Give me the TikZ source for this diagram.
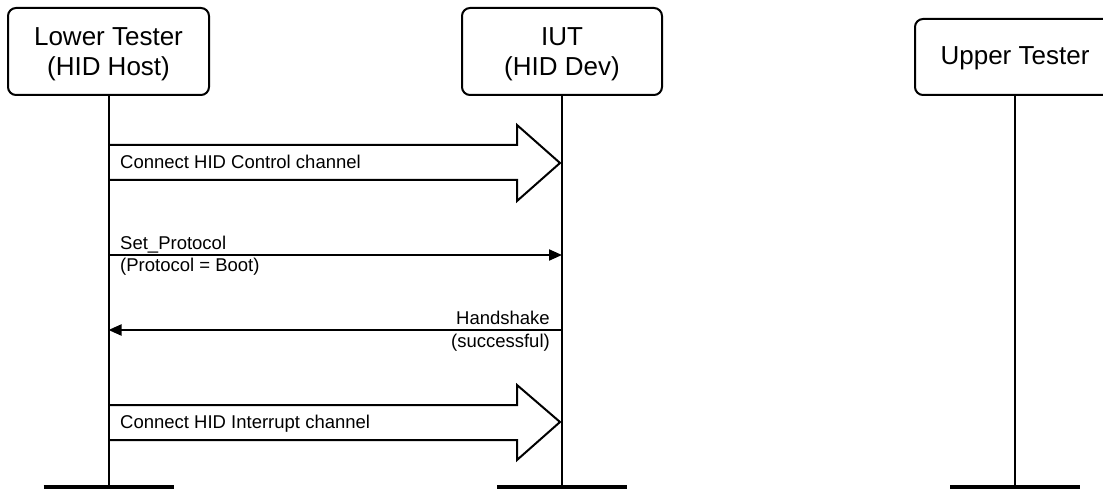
\documentclass[tikz,border=0pt]{standalone}
\usepackage{fontspec}
\setmainfont{Liberation Sans}
\usetikzlibrary{arrows.meta}
\begin{document}
\begin{tikzpicture}[x=1pt,y=-1pt,
  entity/.style={draw,line width=2pt,rounded corners=8pt,inner sep=0pt},
  etext/.style={align=center,font=\fontsize{26}{30.5}\selectfont,inner sep=0pt},
  life/.style={line width=2pt},
  foot/.style={line width=5pt},
  blockarrow/.style={draw,line width=2pt,line join=miter},
  msg/.style={line width=2pt,-{Triangle[length=13pt,width=11pt]}},
  lbl/.style={font=\fontsize{18.5}{22}\selectfont,inner sep=0pt}]
\useasboundingbox (0,0) rectangle (1103,489);
% entities
\node[entity,minimum width=201pt,minimum height=87pt] (lt) at (108.5,51.5) {};
\node[etext] (ltt) at ([yshift=-3pt]lt.center) {Lower Tester\\(HID Host)};
\node[entity,minimum width=200pt,minimum height=87pt] (iut) at (562,51.5) {};
\node[etext] (iutt) at ([yshift=-2.5pt]iut.center) {IUT\\(HID Dev)};
\node[entity,minimum width=200pt,minimum height=76pt] (ut) at (1015,57) {};
\node[etext] (utt) at ([yshift=-1pt]ut.center) {Upper Tester};
% lifeline ends
\coordinate (ltend) at (108.5,487);
\coordinate (iutend) at (562,487);
\coordinate (utend) at (1015,487);
\draw[life] (lt.south) -- (ltend);
\draw[life] (iut.south) -- (iutend);
\draw[life] (ut.south) -- (utend);
\draw[foot] ([xshift=-65pt]ltend) -- ([xshift=65pt]ltend);
\draw[foot] ([xshift=-65pt]iutend) -- ([xshift=65pt]iutend);
\draw[foot] ([xshift=-65pt]utend) -- ([xshift=65pt]utend);
% block arrow 1
\draw[blockarrow] (108.5,145) -- (517,145) -- (517,125) -- (560,163) -- (517,201) -- (517,180) -- (108.5,180);
\node[lbl,anchor=base west] (c1) at (120,169) {Connect HID Control channel};
% Set_Protocol
\coordinate (sp1) at (108.5,255);
\coordinate (sp2) at (562,255);
\draw[msg] (sp1) -- (sp2);
\node[lbl,anchor=base west] (sp) at (120,249) {Set\_Protocol};
\node[lbl,anchor=base west] (spb) at (120,271) {(Protocol = Boot)};
% Handshake
\coordinate (hs1) at (562,330);
\coordinate (hs2) at (108.5,330);
\draw[msg] (hs1) -- (hs2);
\node[lbl,anchor=base east] (hs) at (550,324) {Handshake};
\node[lbl,anchor=base east] (hsb) at (550,347) {(successful)};
% block arrow 2
\draw[blockarrow] (108.5,405) -- (517,405) -- (517,385) -- (560,422) -- (517,460) -- (517,440) -- (108.5,440);
\node[lbl,anchor=base west] (c2) at (120,428) {Connect HID Interrupt channel};
\end{tikzpicture}
\end{document}
